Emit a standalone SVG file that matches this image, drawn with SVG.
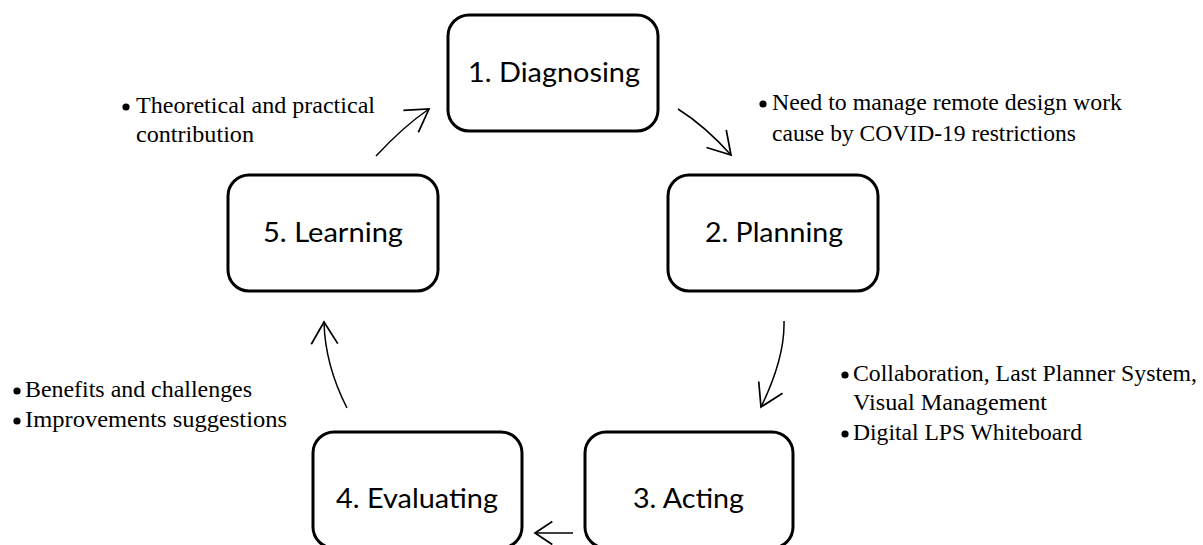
<svg xmlns="http://www.w3.org/2000/svg" width="1203" height="545" viewBox="0 0 1203 545">
<style>
.box{fill:#fff;stroke:#000;stroke-width:3}
.lbl{font-family:Lato,"Open Sans","Liberation Sans",sans-serif;font-size:26px;fill:#000;text-anchor:middle}
.note{font-family:"Liberation Serif","DejaVu Serif",serif;font-size:23px;fill:#000}
.arr{fill:none;stroke:#000;stroke-width:1.5;marker-end:url(#ah)}
.arr.small{marker-end:url(#ahs)}
.dot{fill:#000}
</style>
<defs>
<marker id="ah" markerUnits="userSpaceOnUse" markerWidth="30" markerHeight="30" viewBox="-22 -13 24 26" refX="0" refY="0" orient="auto">
<path d="M-19,-11.5 L0,0 L-19,11.5" fill="none" stroke="#000" stroke-width="1.5"/>
</marker>
<marker id="ahs" markerUnits="userSpaceOnUse" markerWidth="30" markerHeight="30" viewBox="-22 -13 24 26" refX="0" refY="0" orient="auto">
<path d="M-15,-10 L0,0 L-15,10" fill="none" stroke="#000" stroke-width="1.5"/>
</marker>
</defs>
<rect width="1203" height="545" fill="#fff"/>
<g id="connectors">
<path class="arr" d="M678,109 Q705,126 731,155"/>
<path class="arr" d="M784,321 Q785,358 761,407"/>
<path class="arr small" d="M573,533 L535,533"/>
<path class="arr" d="M347,408 Q325,365 324,322"/>
<path class="arr" d="M376,156 Q404,126 429,109"/>
</g>
<g id="node1">
<rect class="box" x="448" y="15" width="210" height="116" rx="21"/>
<text class="lbl" x="554" y="82" textLength="172" lengthAdjust="spacingAndGlyphs">1. Diagnosing</text>
</g>
<g id="node2">
<rect class="box" x="668" y="175" width="210" height="116" rx="21"/>
<text class="lbl" x="774" y="242" textLength="138" lengthAdjust="spacingAndGlyphs">2. Planning</text>
</g>
<g id="node3">
<rect class="box" x="585" y="432" width="208" height="116" rx="21"/>
<text class="lbl" x="688.5" y="508" textLength="111" lengthAdjust="spacingAndGlyphs">3. Acting</text>
</g>
<g id="node4">
<rect class="box" x="313" y="432" width="209" height="116" rx="21"/>
<text class="lbl" x="417" y="508" textLength="162" lengthAdjust="spacingAndGlyphs">4. Evaluating</text>
</g>
<g id="node5">
<rect class="box" x="228" y="175" width="210" height="116" rx="21"/>
<text class="lbl" x="333" y="242" textLength="140" lengthAdjust="spacingAndGlyphs">5. Learning</text>
</g>
<g id="notes">
<circle class="dot" cx="126" cy="107" r="3.6"/>
<text class="note" x="136" y="113" textLength="239" lengthAdjust="spacingAndGlyphs">Theoretical and practical</text>
<text class="note" x="136" y="142" textLength="118" lengthAdjust="spacingAndGlyphs">contribution</text>
<circle class="dot" cx="763" cy="104" r="3.6"/>
<text class="note" x="772" y="110" textLength="350" lengthAdjust="spacingAndGlyphs">Need to manage remote design work</text>
<text class="note" x="772" y="141" textLength="304" lengthAdjust="spacingAndGlyphs">cause by COVID-19 restrictions</text>
<circle class="dot" cx="845" cy="375" r="3.6"/>
<text class="note" x="853" y="381" textLength="344" lengthAdjust="spacingAndGlyphs">Collaboration, Last Planner System,</text>
<text class="note" x="853" y="410" textLength="194" lengthAdjust="spacingAndGlyphs">Visual Management</text>
<circle class="dot" cx="845" cy="434" r="3.6"/>
<text class="note" x="853" y="440" textLength="229" lengthAdjust="spacingAndGlyphs">Digital LPS Whiteboard</text>
<circle class="dot" cx="17" cy="391" r="3.6"/>
<text class="note" x="25" y="397" textLength="227" lengthAdjust="spacingAndGlyphs">Benefits and challenges</text>
<circle class="dot" cx="17" cy="421" r="3.6"/>
<text class="note" x="25" y="427" textLength="262" lengthAdjust="spacingAndGlyphs">Improvements suggestions</text>
</g>
</svg>
